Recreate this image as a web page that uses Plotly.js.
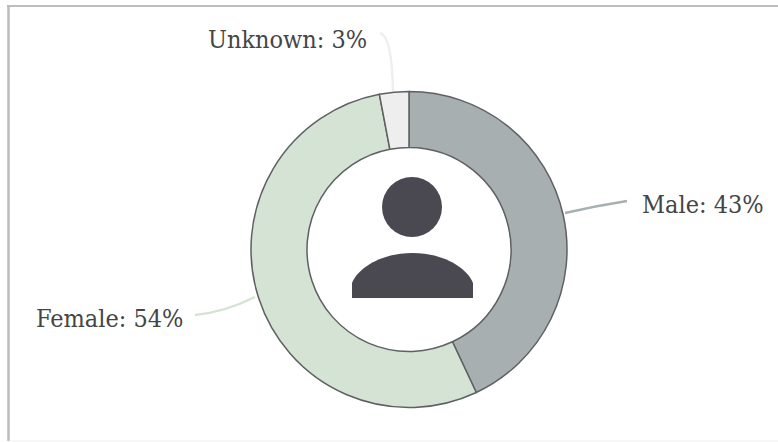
<!DOCTYPE html>
<html><head><meta charset="utf-8">
<script src="https://cdn.plot.ly/plotly-3.0.1.min.js"></script>
<style>html,body{margin:0;padding:0;background:#fff}#c{width:778px;height:442px}</style>
</head><body><div id="c"></div>
<script>
const categories = ["Male","Female","Unknown"];
const values = [43,54,3];
const colors = ["#a7afb1","#d4e3d3","#eeeeee"];
const W=778,H=442,cx=409,cy=249.5,R=158,hole=102/158;
const px=x=>x/W, py=y=>1-y/H;
const ink="#4a4850", textColor="#454545";
const labelPos=[[640,204,"left"],[185,318,"right"],[369,39,"right"]];
const annotations=categories.map((c,i)=>({
  text:c+": "+values[i]+"%",xref:"paper",yref:"paper",
  x:px(labelPos[i][0]),y:py(labelPos[i][1]),xanchor:labelPos[i][2],yanchor:"middle",
  showarrow:false,font:{family:"DejaVu Serif Condensed, DejaVu Serif, serif",size:25,color:textColor}
}));
const connector=(path,color)=>({type:"path",xref:"paper",yref:"paper",path:path,line:{color:color,width:2.5}});
const toPath=(m,c)=>`M${px(m[0])},${py(m[1])} Q${px(c[0])},${py(c[1])} ${px(c[2])},${py(c[3])}`;
const shapes=[
 connector(toPath([565,213],[595,206,627,201]),colors[0]),
 connector(toPath([255,297],[225,312,195,315]),colors[1]),
 connector(toPath([393,91],[392,36,380,33]),colors[2]),
 {type:"circle",xref:"paper",yref:"paper",x0:px(382),x1:px(442),y0:py(177),y1:py(237),fillcolor:ink,line:{width:0}},
 {type:"path",xref:"paper",yref:"paper",fillcolor:ink,line:{width:0},
  path:`M${px(352)},${py(298)} L${px(352)},${py(283)} C${px(359)},${py(266)} ${px(384)},${py(253)} ${px(412.5)},${py(253)} C${px(441)},${py(253)} ${px(466)},${py(266)} ${px(473)},${py(283)} L${px(473)},${py(298)} Z`},
 {type:"line",xref:"paper",yref:"paper",x0:px(7),x1:px(778),y0:py(6),y1:py(6),line:{color:"#bdbdbd",width:2}},
 {type:"line",xref:"paper",yref:"paper",x0:px(8.5),x1:px(8.5),y0:py(5),y1:py(441),line:{color:"#bdbdbd",width:2.5}},
 {type:"line",xref:"paper",yref:"paper",x0:px(9),x1:px(778),y0:py(441),y1:py(441),line:{color:"#f0f0f0",width:1}}
];
Plotly.newPlot("c",[{type:"pie",labels:categories,values:values,sort:false,direction:"clockwise",rotation:0,hole:hole,
  textinfo:"none",hoverinfo:"none",showlegend:false,
  marker:{colors:colors,line:{color:"#5e6064",width:1.5}},
  domain:{x:[px(cx-R),px(cx+R)],y:[py(cy+R),py(cy-R)]}}],
 {width:W,height:H,margin:{l:0,r:0,t:0,b:0},paper_bgcolor:"#fff",showlegend:false,annotations:annotations,shapes:shapes},
 {displayModeBar:false,staticPlot:true});
</script></body></html>
